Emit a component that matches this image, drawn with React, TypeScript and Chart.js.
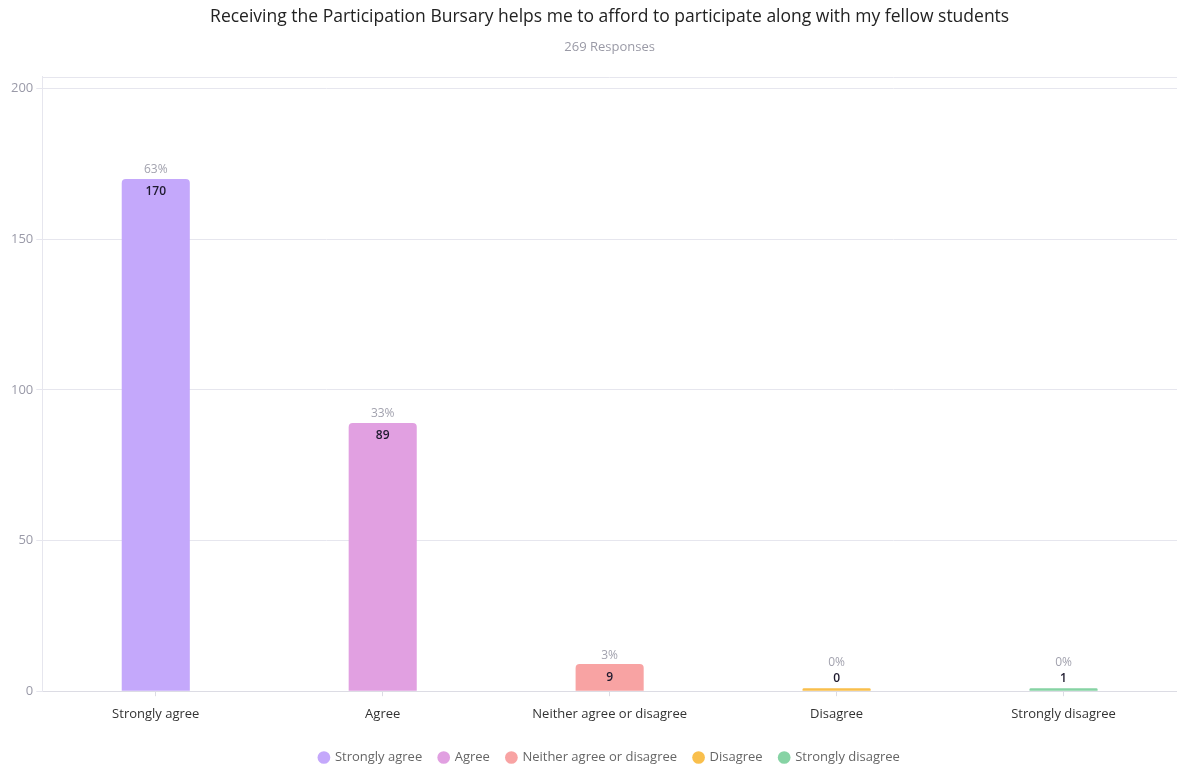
import React, { useEffect, useRef } from "react";
import { Chart, registerables } from "chart.js";

Chart.register(...registerables);

const categories = ["Strongly agree", "Agree", "Neither agree or disagree", "Disagree", "Strongly disagree"];
const counts = [170, 89, 9, 0, 1];
const percentLabels = ["63%", "33%", "3%", "0%", "0%"];
const barColors = ["#c4a8fb", "#e1a0e1", "#f8a3a3", "#f9bf4c", "#86d3a4"];
const yTicks = [0, 50, 100, 150, 200];
const titleText = "Receiving the Participation Bursary helps me to afford to participate along with my fellow students";
const subtitleText = "269 Responses";

const FONT = "'Open Sans', 'DejaVu Sans', sans-serif";

const labelPlugin = {
  id: "barLabels",
  afterDatasetsDraw(chart: any) {
    const { ctx, chartArea } = chart;
    ctx.save();
    ctx.strokeStyle = "#e6e6ee";
    ctx.lineWidth = 1;
    ctx.beginPath();
    ctx.moveTo(chartArea.left, Math.round(chartArea.top) + 0.5);
    ctx.lineTo(chartArea.right, Math.round(chartArea.top) + 0.5);
    ctx.stroke();

    const meta = chart.getDatasetMeta(0);
    meta.data.forEach((bar: any, i: number) => {
      const top = bar.y;
      const h = bar.base - bar.y;
      ctx.textAlign = "center";
      ctx.textBaseline = "middle";
      let valueY: number;
      let pctY: number;
      if (h > 20) {
        valueY = top + 13;
        pctY = top - 9;
      } else {
        valueY = top - 10;
        pctY = top - 26;
      }
      ctx.font = `600 12px ${FONT}`;
      ctx.fillStyle = "#1e1a2e";
      ctx.fillText(String(counts[i]), bar.x, valueY);
      ctx.font = `12px ${FONT}`;
      ctx.fillStyle = "#a2a2ae";
      ctx.fillText(percentLabels[i], bar.x, pctY);
    });
    ctx.restore();
  },
};

export default function App() {
  const canvasRef = useRef<HTMLCanvasElement | null>(null);

  useEffect(() => {
    if (!canvasRef.current) return;
    const chart = new Chart(canvasRef.current, {
      type: "bar",
      data: {
        labels: categories,
        datasets: [
          {
            label: "Responses",
            data: counts,
            backgroundColor: barColors,
            borderRadius: { topLeft: 4, topRight: 4, bottomLeft: 0, bottomRight: 0 },
            borderSkipped: "start",
            barPercentage: 0.3,
            categoryPercentage: 1,
            minBarLength: 3,
          },
        ],
      },
      options: {
        animation: false,
        responsive: true,
        maintainAspectRatio: false,
        layout: { padding: { left: 8, right: 0, top: 0, bottom: -10 } },
        plugins: {
          title: {
            display: true,
            fullSize: false,
            text: titleText,
            color: "#222222",
            font: { family: FONT, size: 17.5, weight: "normal" },
            padding: { top: 7, bottom: 11 },
          },
          subtitle: {
            display: true,
            fullSize: false,
            text: subtitleText,
            color: "#9a9aa6",
            font: { family: FONT, size: 13 },
            padding: { top: 0, bottom: 22 },
          },
          legend: {
            position: "bottom",
            fullSize: false,
            title: { display: true, text: " ", font: { size: 1 }, padding: { top: 0, bottom: 1 } },
            labels: {
              usePointStyle: true,
              pointStyle: "circle",
              boxWidth: 9,
              boxHeight: 9,
              padding: 17,
              color: "#333333",
              font: { family: FONT, size: 13 },
              generateLabels: () =>
                categories.map((c, i) => ({
                  text: c,
                  fillStyle: barColors[i],
                  strokeStyle: barColors[i],
                  lineWidth: 0,
                  pointStyle: "circle",
                  hidden: false,
                  index: i,
                  datasetIndex: 0,
                })),
            },
          },
          tooltip: { enabled: false },
        },
        scales: {
          x: {
            grid: { offset: false, drawOnChartArea: false, drawTicks: true, tickLength: 5, color: "#dcdce4" },
            border: { display: true, color: "#dcdce4" },
            ticks: { color: "#333333", font: { family: FONT, size: 13 }, padding: 10, maxRotation: 0 },
          },
          y: {
            min: 0,
            max: 204,
            afterBuildTicks: (axis: any) => {
              axis.ticks = yTicks.map((v) => ({ value: v }));
            },
            grid: { color: "#e6e6ee", tickLength: 6 },
            border: { display: true, color: "#e6e6ee" },
            ticks: { color: "#9a9aa8", font: { family: FONT, size: 13 }, padding: 3 },
          },
        },
      },
      plugins: [labelPlugin],
    });
    return () => chart.destroy();
  }, []);

  return (
    <div style={{ position: "fixed", left: 0, top: 0, width: 1177, height: 764, background: "#ffffff" }}>
      <canvas ref={canvasRef} />
    </div>
  );
}
